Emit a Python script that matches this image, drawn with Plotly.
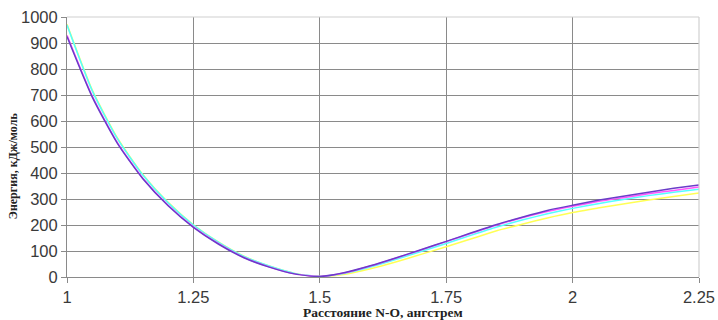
import plotly.graph_objects as go

distance = [1.00, 1.05, 1.10, 1.15, 1.20, 1.25, 1.30, 1.35, 1.40, 1.45, 1.50,
            1.55, 1.60, 1.65, 1.70, 1.75, 1.80, 1.85, 1.90, 1.95, 2.00,
            2.05, 2.10, 2.15, 2.20, 2.25]

energy_blue = [925, 692, 513, 378, 274, 191, 126, 74, 38, 12, 2,
               17, 43, 73, 105, 137, 170, 202, 230, 256, 276,
               295, 311, 326, 341, 354]
energy_magenta = [930, 696, 516, 380, 276, 193, 128, 75, 39, 12, 2,
                  16, 42, 72, 104, 136, 168, 200, 228, 252, 272,
                  290, 305, 320, 333, 346]
energy_cyan = [969, 716, 531, 392, 285, 200, 133, 79, 42, 14, 2,
               14, 38, 67, 98, 129, 161, 192, 219, 243, 264,
               282, 298, 313, 326, 338]
energy_yellow = [972, 719, 534, 394, 287, 201, 134, 80, 42, 14, 2,
                 11, 32, 58, 87, 116, 147, 178, 203, 227, 248,
                 265, 281, 296, 310, 323]

x_ticks = [1, 1.25, 1.5, 1.75, 2, 2.25]
x_tick_labels = ["1", "1.25", "1.5", "1.75", "2", "2.25"]
y_ticks = list(range(0, 1001, 100))

series = [
    (energy_yellow, "#ffff55"),
    (energy_cyan, "#55ffff"),
    (energy_magenta, "#ff55ff"),
    (energy_blue, "#6a3dc8"),
]

fig = go.Figure()
for vals, col in series:
    fig.add_trace(go.Scatter(x=distance, y=vals, mode="lines",
                             line=dict(color=col, width=1.5, shape="spline", smoothing=0.6),
                             showlegend=False, hoverinfo="skip"))

fig.update_layout(
    width=718, height=320,
    margin=dict(l=67, r=19, t=17, b=43, autoexpand=False),
    paper_bgcolor="white", plot_bgcolor="white",
    font=dict(family="Liberation Sans, Arial, sans-serif", size=16, color="#3a3a3a"),
)
fig.update_xaxes(
    range=[1, 2.25], tickvals=x_ticks, ticktext=x_tick_labels,
    showgrid=True, gridcolor="#8a8a8a", gridwidth=1,
    showline=True, linecolor="#8a8a8a", linewidth=1,
    ticks="outside", ticklen=5, tickcolor="#8a8a8a",
    zeroline=False, tickfont=dict(size=16.5), automargin=False,
)
fig.update_yaxes(
    range=[0, 1000], tickvals=y_ticks,
    showgrid=True, gridcolor="#8a8a8a", gridwidth=1,
    showline=True, linecolor="#8a8a8a", linewidth=1,
    ticks="outside", ticklen=5, tickcolor="#8a8a8a",
    zeroline=False, tickfont=dict(size=16.5), automargin=False,
)

fig.add_shape(type="line", xref="paper", yref="paper", x0=0, x1=1, y0=1, y1=1,
              line=dict(color="#d0d0d0", width=1.2), layer="above")
fig.add_shape(type="line", xref="paper", yref="paper", x0=1, x1=1, y0=0, y1=1,
              line=dict(color="#d0d0d0", width=1.2), layer="above")

fig.add_annotation(text="<b>Энергия, кДж/моль</b>", xref="paper", yref="paper",
                   x=-0.085, y=0.427, showarrow=False, textangle=-90,
                   xanchor="center", yanchor="middle",
                   font=dict(family="Liberation Serif, Times New Roman, serif", size=12, color="#222"))
fig.add_annotation(text="<b>Расстояние N-O, ангстрем</b>", xref="paper", yref="paper",
                   x=0.5, y=-0.138, showarrow=False,
                   xanchor="center", yanchor="middle",
                   font=dict(family="Liberation Serif, Times New Roman, serif", size=13.5, color="#222"))

fig.write_html("out.html", config={"displayModeBar": False},
               post_script="document.body.style.margin='0px';")
